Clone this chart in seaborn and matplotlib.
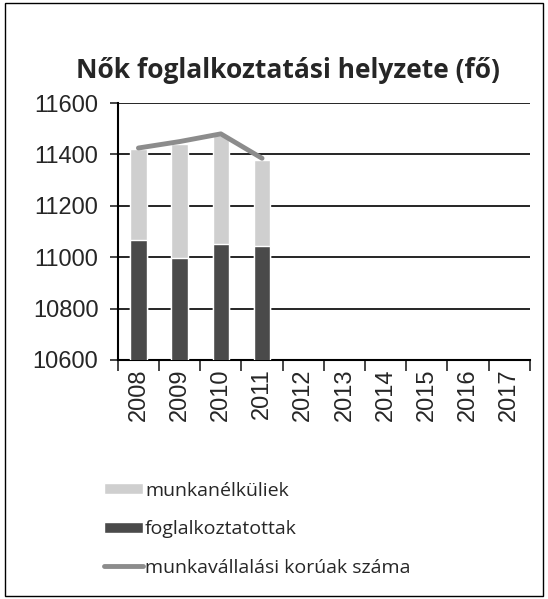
import pandas as pd
import matplotlib.pyplot as plt
import seaborn as sns
from matplotlib.patches import Patch, Rectangle
from matplotlib.lines import Line2D

years = ["2008", "2009", "2010", "2011", "2012", "2013", "2014", "2015", "2016", "2017"]
data_years = ["2008", "2009", "2010", "2011"]
foglalkoztatottak = [11066, 10995, 11050, 11042]
munkanelkuliek = [355, 445, 425, 338]
munkavallalasi = [11425, 11450, 11480, 11385]

df = pd.DataFrame({
    "ev": data_years,
    "fogl": foglalkoztatottak,
    "osszes": [a + b for a, b in zip(foglalkoztatottak, munkanelkuliek)],
    "korúak": munkavallalasi,
})

sns.set_style("white")
plt.rcParams["font.family"] = ["Liberation Sans", "DejaVu Sans"]

fig = plt.figure(figsize=(5.48, 5.99), dpi=100)
ax = fig.add_axes([0.215, 0.399, 0.752, 0.429])

light = "#cfcfcf"
dark = "#4a4a4a"
linec = "#8c8c8c"

sns.barplot(data=df, x="ev", y="osszes", order=years, color=light, width=0.4,
            saturation=1, ax=ax, zorder=2)
sns.barplot(data=df, x="ev", y="fogl", order=years, color=dark, width=0.4,
            saturation=1, ax=ax, zorder=3)
sns.pointplot(data=df, x="ev", y="korúak", order=years, color=linec, markers="",
              linestyles="-", ax=ax, zorder=4)
for l in ax.lines:
    l.set_linewidth(3.5)

ax.set_ylim(10600, 11600)
ax.set_xlim(-0.5, 9.5)
ax.set_yticks(range(10600, 11601, 200))
ax.yaxis.grid(True, color="black", linewidth=1.2)
ax.set_axisbelow(True)
ax.set_xlabel("")
ax.set_ylabel("")
ax.tick_params(axis="y", labelsize=17, length=6, direction="out", left=True, width=1.2, pad=8)
ax.tick_params(axis="x", labelsize=17, length=0, rotation=90, pad=6)
ax.set_xticks([i - 0.5 for i in range(11)], minor=True)
ax.tick_params(axis="x", which="minor", length=8, direction="out", bottom=True, width=1.2)
for s in ["top", "right"]:
    ax.spines[s].set_visible(False)
for s in ["left", "bottom"]:
    ax.spines[s].set_color("black")
    ax.spines[s].set_linewidth(1.5)

fig.text(0.525, 0.882, "Nők foglalkoztatási helyzete (fő)", ha="center", va="center",
         fontsize=19, fontweight="bold", family=["Open Sans", "DejaVu Sans"])

handles = [Patch(facecolor=light), Patch(facecolor=dark),
           Line2D([], [], color=linec, linewidth=3.5)]
labels = ["munkanélküliek", "foglalkoztatottak", "munkavállalási korúak száma"]
fig.legend(handles, labels, loc="upper left", bbox_to_anchor=(0.158, 0.225),
           frameon=False, prop={"family": "Open Sans", "size": 14},
           handlelength=2.0, handleheight=0.5, handletextpad=0.1, labelspacing=1.05)

fig.patches.append(Rectangle((0.01, 0.005), 0.98, 0.99, transform=fig.transFigure,
                             fill=False, edgecolor="black", linewidth=1))

fig.savefig("out.png", dpi=100)
